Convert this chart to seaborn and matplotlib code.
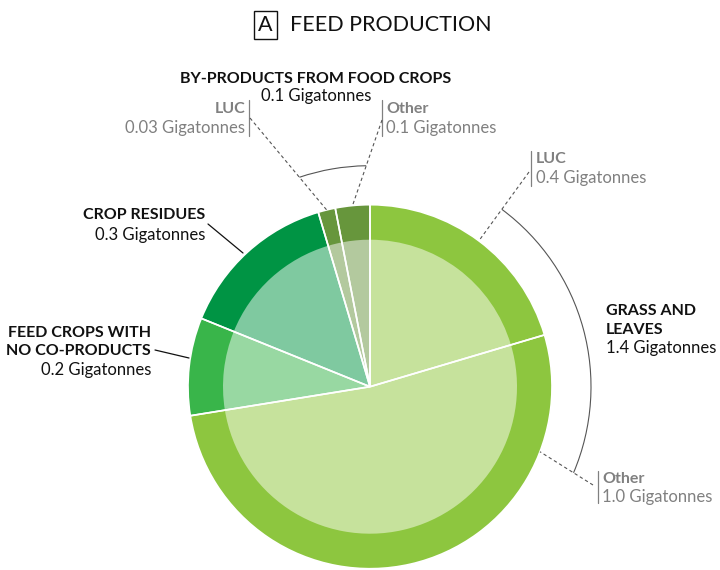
import numpy as np
import matplotlib
matplotlib.use("Agg")
import matplotlib.pyplot as plt
from matplotlib.patches import Arc
import seaborn as sns

# ------------------------
# Data (Gigatonnes), clockwise from 12 o'clock
# ------------------------
segments = ["Grass LUC", "Grass Other", "Feed crops", "Crop residues",
            "By-products LUC", "By-products Other"]
values = [0.40, 1.02, 0.17, 0.28, 0.03, 0.06]
outer_colors = ["#8dc63f", "#8dc63f", "#39b54a", "#009444", "#67963c", "#67963c"]
inner_colors = ["#c6e29c", "#c6e29c", "#98d8a2", "#7fc9a0", "#b3c99e", "#b3c99e"]

# ------------------------
# Style
# ------------------------
sns.set_theme(style="white")
plt.rcParams["font.family"] = ["Lato", "DejaVu Sans"]

W, H = 720, 570
CX, CY = 370, H - 386.7
R_OUT, R_IN = 182, 147
R_ARC = 221
GRAY = "#808080"
INK = "#111111"
FS_B, FS_R = 11.5, 12


def Y(py):
    return H - py


fig = plt.figure(figsize=(W / 100, H / 100), dpi=100)
ax = fig.add_axes([0, 0, 1, 1])

# outer ring, lighter inner pie, then white wedge outlines on top
ax.pie(values, colors=outer_colors, startangle=90, counterclock=False,
       radius=R_OUT, center=(CX, CY), wedgeprops=dict(linewidth=0))
ax.pie(values, colors=inner_colors, startangle=90, counterclock=False,
       radius=R_IN, center=(CX, CY), wedgeprops=dict(linewidth=0))
ax.pie(values, startangle=90, counterclock=False, radius=R_OUT, center=(CX, CY),
       wedgeprops=dict(fill=False, edgecolor="white", linewidth=1.2))
ax.set_xlim(0, W)
ax.set_ylim(0, H)
ax.set_aspect("equal")
ax.axis("off")

# clockwise angles (deg from top) of each wedge
tot = sum(values)
ends = np.cumsum(values) / tot * 360
starts = np.concatenate([[0], ends[:-1]])


def ring_point(theta_c, r=R_OUT):
    t = np.radians(theta_c)
    return CX + r * np.sin(t), CY + r * np.cos(t)


def arc_angle(p0, p1, r):
    # where the segment p0->p1 crosses the circle of radius r; returns standard angle
    p0 = np.array(p0, float)
    d = np.array(p1, float) - p0
    f = p0 - np.array([CX, CY])
    a, b, c = d @ d, 2 * f @ d, f @ f - r * r
    t = (-b - np.sqrt(b * b - 4 * a * c)) / (2 * a)
    q = p0 + t * d - np.array([CX, CY])
    return np.degrees(np.arctan2(q[1], q[0]))


def leader(p0, theta_c):
    p1 = ring_point(theta_c)
    ax.plot([p0[0], p1[0]], [p0[1], p1[1]], color="#555555", lw=0.8,
            ls=(0, (3, 2.5)))
    return arc_angle(p0, p1, R_ARC)


def label(x, py, s, bold=False, color=INK, ha="left"):
    ax.text(x, Y(py), s, fontsize=FS_B if bold else FS_R,
            fontweight="bold" if bold else "normal", ha=ha, va="baseline",
            color=color)


# ------------------------
# Title
# ------------------------
ax.text(265.5, Y(31), "A", fontsize=15.5, ha="center", va="baseline", color=INK,
        bbox=dict(boxstyle="square,pad=0.2", fc="white", ec=INK, lw=1))
ax.text(290, Y(31), "FEED PRODUCTION", fontsize=15.5, ha="left", va="baseline",
        color=INK)

# ------------------------
# By-products (top)
# ------------------------
label(316, 83, "BY-PRODUCTS FROM FOOD CROPS", bold=True, ha="center")
label(316, 101, "0.1 Gigatonnes", ha="center")
label(245, 113, "LUC", bold=True, color=GRAY, ha="right")
label(245, 133, "0.03 Gigatonnes", color=GRAY, ha="right")
ax.plot([249, 249], [Y(100), Y(136)], color=GRAY, lw=0.9)
label(386, 113, "Other", bold=True, color=GRAY)
label(386, 133, "0.1 Gigatonnes", color=GRAY)
ax.plot([382, 382], [Y(100), Y(136)], color=GRAY, lw=0.9)

a1 = leader((250, Y(118)), (starts[4] + ends[4]) / 2)
a2 = leader((382, Y(120)), (starts[5] + ends[5]) / 2)
ax.add_patch(Arc((CX, CY), 2 * R_ARC, 2 * R_ARC, theta1=min(a1, a2),
                 theta2=max(a1, a2), color="#555555", lw=0.8))

# ------------------------
# Grass and leaves (right)
# ------------------------
label(536, 163, "LUC", bold=True, color=GRAY)
label(536, 183, "0.4 Gigatonnes", color=GRAY)
ax.plot([531, 531], [Y(151), Y(186)], color=GRAY, lw=0.9)
label(602, 483, "Other", bold=True, color=GRAY)
label(602, 502, "1.0 Gigatonnes", color=GRAY)
ax.plot([597.5, 597.5], [Y(471), Y(503)], color=GRAY, lw=0.9)

g1 = leader((529, Y(172)), (starts[0] + ends[0]) / 2)
g2 = leader((593, Y(485)), starts[1] + 0.2 * (ends[1] - starts[1]))
ax.add_patch(Arc((CX, CY), 2 * R_ARC, 2 * R_ARC, theta1=min(g1, g2),
                 theta2=max(g1, g2), color="#555555", lw=0.8))

label(606, 315, "GRASS AND", bold=True)
label(606, 334, "LEAVES", bold=True)
label(606, 353, "1.4 Gigatonnes")

# ------------------------
# Crop residues & feed crops (left)
# ------------------------
label(205, 219, "CROP RESIDUES", bold=True, ha="right")
label(205, 240, "0.3 Gigatonnes", ha="right")
ax.plot([208, 243], [Y(224), Y(253)], color=INK, lw=0.9)

label(151, 337, "FEED CROPS WITH", bold=True, ha="right")
label(151, 355, "NO CO-PRODUCTS", bold=True, ha="right")
label(151, 375, "0.2 Gigatonnes", ha="right")
ax.plot([155, 189], [Y(350), Y(358)], color=INK, lw=0.9)

fig.savefig("out.png", dpi=100, facecolor="white")
